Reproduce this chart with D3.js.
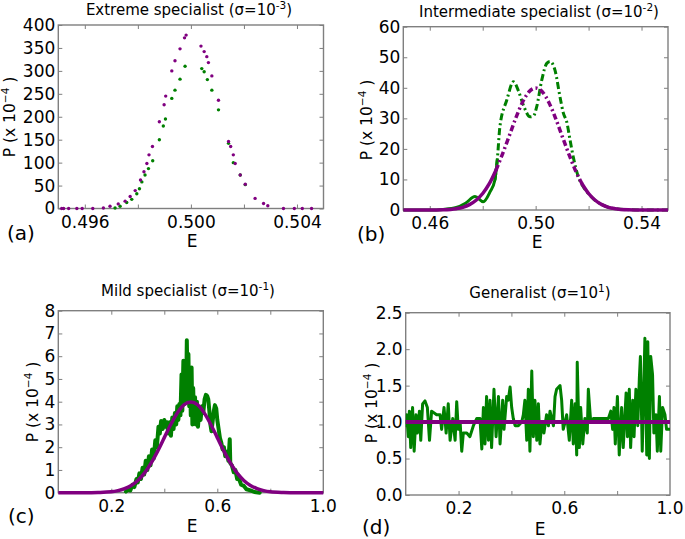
<!DOCTYPE html>
<html><head><meta charset="utf-8">
<script src="https://cdn.jsdelivr.net/npm/d3@7"></script>
<style>body{margin:0;background:#fff}svg{display:block}</style>
</head><body><svg id="c" width="685" height="539"></svg>
<script>
// ---------- DATA ----------
// (a) Extreme specialist
const aPurpleE = [0.49513,0.4952,0.49539,0.4957,0.4959,0.4963,0.4967,0.49695,0.49726,0.49752,0.49771,0.4979,0.4981,0.49823,0.49834,0.49842,0.49855,0.49881,0.49899,0.49905,0.49928,0.4994,0.49959,0.49976,0.49982,0.50038,0.5005,0.5006,0.50066,0.50079,0.50104,0.50142,0.5015,0.5016,0.50167,0.50186,0.50205,0.50242,0.50274,0.5029,0.50349,0.5039,0.5042,0.50455];
const aPurpleP = [0,0,0,0,0,0,1,5,10,16,26,39,62,80,98,117,135,189,226,245,300,322,348,372,378,354,342,331,318,289,236,146,135,117,98,73,53,22,11,6,0,0,0,0];
const aGreenE = [0.49714,0.49733,0.49758,0.49777,0.49796,0.49806,0.49815,0.49827,0.4984,0.49856,0.49881,0.49896,0.49904,0.49928,0.4994,0.49959,0.49978,0.50041,0.5005,0.50062,0.50079,0.50104,0.50142,0.5016,0.50186,0.50205];
const aGreenP = [1,5,13,20,32,43,58,73,87,104,150,180,195,240,258,282,310,305,298,281,258,215,142,100,73,52];

// (b) Intermediate specialist
const bPurpleE = [0.45,0.455,0.46,0.465,0.47,0.4725,0.475,0.4775,0.48,0.4825,0.485,0.4875,0.49,0.4925,0.495,0.4975,0.5,0.5025,0.505,0.5075,0.51,0.5125,0.515,0.5175,0.52,0.5225,0.525,0.5275,0.53,0.535,0.54,0.545,0.55];
const bPurpleP = [0,0,0.01,0.09,0.44,0.88,1.75,3.2,5.4,8.6,13.0,18.4,24.2,30.1,35.2,38.7,39.9,38.7,35.2,30.1,24.2,18.4,13.0,8.6,5.4,3.2,1.75,0.88,0.44,0.09,0.01,0,0];
const bGreenE = [0.45,0.46,0.465,0.47,0.4735,0.4771,0.4802,0.4828,0.4846,0.4855,0.4865,0.4891,0.4916,0.4935,0.4955,0.4979,0.4992,0.5004,0.5023,0.5042,0.5055,0.5073,0.5092,0.5105,0.5117,0.513,0.5142,0.5161,0.518,0.5199,0.522,0.525,0.53,0.54,0.55];
const bGreenP = [0,0,0.2,0.8,2.2,4.4,2.7,6.0,9.8,16.4,27.3,36,42,39,34,30.5,30.8,33.8,42.5,48,48.6,45.8,37,31.6,29,22.9,17.4,10.9,7.6,5.4,3.5,1.8,0.4,0,0];

// (c) Mild specialist
const cPurpleE = [0,0.05,0.1,0.15,0.2,0.225,0.25,0.275,0.3,0.325,0.35,0.375,0.4,0.425,0.45,0.475,0.5,0.525,0.55,0.575,0.6,0.625,0.65,0.675,0.7,0.725,0.75,0.775,0.8,0.85,0.9,0.95,1.0];
const cPurpleP = [0,0,0,0.01,0.04,0.09,0.18,0.32,0.54,0.86,1.30,1.83,2.42,3.01,3.52,3.87,3.99,3.87,3.52,3.01,2.42,1.83,1.30,0.86,0.54,0.32,0.18,0.09,0.04,0.01,0,0,0];
const cGreenE = [0.255,0.265,0.272,0.28,0.287,0.295,0.3,0.306,0.312,0.318,0.324,0.33,0.336,0.342,0.348,0.354,0.36,0.366,0.372,0.378,0.383,0.388,0.394,0.4,0.406,0.41,0.415,0.42,0.425,0.43,0.435,0.44,0.445,0.449,0.453,0.457,0.461,0.465,0.468,0.472,0.475,0.479,0.482,0.485,0.488,0.491,0.494,0.497,0.5,0.503,0.506,0.509,0.512,0.516,0.519,0.523,0.527,0.532,0.537,0.542,0.547,0.552,0.557,0.562,0.566,0.57,0.574,0.578,0.582,0.587,0.591,0.596,0.6,0.605,0.61,0.615,0.62,0.625,0.63,0.636,0.642,0.647,0.649,0.655,0.662,0.668,0.675,0.682,0.69,0.7,0.71,0.725,0.74,0.76];
const cGreenP = [0.05,0.15,0.1,0.35,0.25,0.6,0.45,0.85,0.6,1.1,0.8,1.4,1.0,1.6,1.2,1.9,1.5,2.3,2.0,2.9,2.6,3.15,2.8,3.2,2.9,3.1,2.6,3.1,2.5,3.3,2.8,3.5,3.0,3.8,3.2,3.9,3.4,5.2,3.6,5.8,3.9,5.3,4.0,6.7,4.4,6.1,3.8,5.0,3.4,5.5,3.0,4.6,3.3,4.2,3.0,4.0,2.9,3.6,3.2,3.8,3.5,4.1,4.3,4.25,4.1,3.6,3.0,2.7,3.1,3.6,3.85,3.7,3.2,2.8,2.4,2.2,1.9,2.0,1.6,1.8,1.4,2.35,1.3,1.2,0.9,1.0,0.6,0.6,0.35,0.3,0.15,0.1,0.03,0];

// (d) Generalist
const dPurpleE = [0,1];
const dPurpleP = [1.0,1.0];
const dGreenE = [0.000,0.004,0.010,0.014,0.019,0.026,0.032,0.039,0.044,0.052,0.057,0.064,0.073,0.082,0.090,0.098,0.117,0.130,0.136,0.145,0.153,0.161,0.168,0.178,0.187,0.193,0.199,0.206,0.212,0.218,0.231,0.243,0.256,0.269,0.281,0.288,0.294,0.300,0.306,0.313,0.319,0.325,0.334,0.342,0.351,0.357,0.367,0.372,0.382,0.388,0.395,0.401,0.407,0.414,0.426,0.439,0.445,0.451,0.458,0.464,0.470,0.477,0.483,0.489,0.496,0.502,0.508,0.515,0.523,0.533,0.540,0.546,0.559,0.565,0.571,0.584,0.590,0.596,0.603,0.609,0.619,0.628,0.634,0.641,0.647,0.649,0.657,0.662,0.670,0.678,0.687,0.691,0.700,0.710,0.729,0.748,0.767,0.776,0.783,0.788,0.793,0.801,0.808,0.817,0.823,0.834,0.839,0.846,0.851,0.859,0.864,0.871,0.878,0.884,0.888,0.895,0.902,0.905,0.912,0.916,0.922,0.927,0.934,0.939,0.947,0.952,0.960,0.965,0.972,0.981,0.987,1.000];
const dGreenP = [0.95,1.1,0.8,1.15,0.65,1.2,0.6,1.1,0.85,1.15,0.75,1.25,1.29,1.2,0.75,1.15,1.1,1.1,0.9,1.2,0.85,1.25,0.75,1.05,0.75,1.28,0.9,1.0,0.6,0.85,0.85,0.8,0.95,1.05,1.05,0.63,1.2,0.7,1.35,0.75,1.3,0.65,1.45,0.8,1.35,0.7,1.3,0.9,1.35,1.3,1.48,1.2,1.05,0.95,0.95,1.0,1.1,1.3,0.75,1.45,0.6,1.7,0.8,1.3,0.75,1.25,0.7,1.0,0.85,1.1,0.95,1.15,0.95,1.35,1.45,1.5,1.3,0.9,1.0,1.1,0.75,1.3,0.7,1.25,0.55,1.82,0.65,1.2,0.7,1.05,0.85,1.45,1.0,1.05,1.05,1.05,1.05,1.15,0.9,1.2,0.7,1.35,0.55,1.2,0.65,1.4,0.8,1.45,0.65,1.3,0.8,1.45,0.95,1.6,1.9,0.6,1.65,2.15,0.55,2.1,0.5,1.9,1.65,0.85,1.1,0.6,1.35,0.6,1.2,1.1,0.9,0.9];

// tick values / labels
const aXTicks = [0.496,0.498,0.500,0.502,0.504], aXLabels = [0.496,0.500,0.504];
const bXTicks = [0.46,0.48,0.50,0.52,0.54], bXLabels = [0.46,0.50,0.54];
const cdXTicks = [0.2,0.4,0.6,0.8], cdXLabels = [0.2,0.6,1.0];
const aYTicks = [0,50,100,150,200,250,300,350,400];
const bYTicks = [0,10,20,30,40,50,60];
const cYTicks = [0,1,2,3,4,5,6,7,8];
const dYTicks = [0,0.5,1.0,1.5,2.0,2.5];

const PURPLE = "#800080", GREEN = "#008000";
const FONT = "DejaVu Sans";
const svg = d3.select("#c");

function panel(cfg) {
  const x = d3.scaleLinear().domain(cfg.xdom).range([cfg.L, cfg.R]);
  const y = d3.scaleLinear().domain(cfg.ydom).range([cfg.B, cfg.T]);
  const g = svg.append("g");
  const has = (arr, d) => arr.some(v => Math.abs(v - d) < 1e-9);
  const styleAxis = a => {
    a.select(".domain").remove();
    a.attr("font-family", FONT).attr("font-size", 17);
    a.selectAll("line").attr("stroke", "#7f7f7f").attr("stroke-width", 1);
    a.selectAll("text").attr("fill", "#000");
  };
  g.append("g").attr("transform", `translate(0,${cfg.B})`)
    .call(d3.axisBottom(x).tickValues(cfg.xticks).tickSize(-4).tickPadding(7)
      .tickFormat(d => has(cfg.xlabels, d) ? cfg.xfmt(d) : "")).call(styleAxis);
  if (cfg.edgeLabel) {
    g.append("text").attr("x", cfg.R).attr("y", cfg.B + 7).attr("dy", "0.71em")
      .attr("text-anchor", "middle").attr("font-family", FONT).attr("font-size", 17).text(cfg.edgeLabel);
  }
  g.append("g").attr("transform", `translate(0,${cfg.T})`)
    .call(d3.axisTop(x).tickValues(cfg.xticks).tickSize(-4).tickFormat("")).call(styleAxis);
  g.append("g").attr("transform", `translate(${cfg.L},0)`)
    .call(d3.axisLeft(y).tickValues(cfg.yticks).tickSize(-4).tickPadding(3).tickFormat(cfg.yfmt)).call(styleAxis);
  g.append("g").attr("transform", `translate(${cfg.R},0)`)
    .call(d3.axisRight(y).tickValues(cfg.yticks).tickSize(-4).tickFormat("")).call(styleAxis);
  g.append("rect").attr("x", cfg.L).attr("y", cfg.T).attr("width", cfg.R - cfg.L).attr("height", cfg.B - cfg.T)
    .attr("fill", "none").attr("stroke", "#7f7f7f").attr("stroke-width", 1.4);

  const clipId = "clip" + cfg.id;
  svg.append("clipPath").attr("id", clipId).append("rect")
    .attr("x", cfg.L).attr("y", cfg.T - 3).attr("width", cfg.R - cfg.L).attr("height", cfg.B - cfg.T + 6);
  const plot = g.append("g").attr("clip-path", `url(#${clipId})`);
  cfg.series.forEach(s => {
    let pts = s.E.map((e, i) => [e, s.P[i]]);
    if (s.range) pts = pts.filter(d => d[0] >= s.range[0] && d[0] <= s.range[1]);
    if (s.type === "line") {
      plot.append("path").datum(pts)
        .attr("d", d3.line().x(d => x(d[0])).y(d => y(d[1])).curve(s.curve || d3.curveLinear))
        .attr("fill", "none").attr("stroke", s.color).attr("stroke-width", s.w)
        .attr("stroke-linejoin", "round").attr("stroke-linecap", s.dash ? "butt" : "round")
        .attr("stroke-dasharray", s.dash || null);
    } else {
      plot.selectAll(null).data(pts).join("circle")
        .attr("cx", d => x(d[0])).attr("cy", d => y(d[1])).attr("r", s.r).attr("fill", s.color);
    }
  });

  // title
  const t = g.append("text").attr("x", cfg.tx).attr("y", cfg.ty).attr("text-anchor", "middle")
    .attr("font-family", FONT).attr("font-size", 15);
  t.append("tspan").text(cfg.title[0]);
  t.append("tspan").attr("dy", -6).attr("font-size", 10.5).text(cfg.title[1]);
  t.append("tspan").attr("dy", 6).text(")");
  // x label
  g.append("text").attr("x", cfg.ex).attr("y", cfg.ey).attr("text-anchor", "middle")
    .attr("font-family", FONT).attr("font-size", 17).text("E");
  // y label
  const yl = g.append("text").attr("transform", `translate(${cfg.yx},${cfg.yy}) rotate(-90)`)
    .attr("text-anchor", "middle").attr("font-family", FONT).attr("font-size", 15.5);
  yl.append("tspan").text("P (x 10");
  yl.append("tspan").attr("dy", -6).attr("font-size", 10.5).text("\u22124");
  yl.append("tspan").attr("dy", 6).text(" )");
  // panel letter
  g.append("text").attr("x", cfg.lx).attr("y", cfg.ly).attr("font-family", FONT).attr("font-size", 20).text(cfg.letter);
}

panel({id: "a", L: 58.3, R: 323.5, T: 25, B: 208.5, xdom: [0.495, 0.505], ydom: [0, 400],
  xticks: aXTicks, xlabels: aXLabels, xfmt: d3.format(".3f"), yticks: aYTicks, yfmt: d3.format("d"),
  title: ["Extreme specialist (\u03c3=10", "-3"], tx: 189, ty: 15, ex: 192, ey: 247, yx: 15, yy: 117,
  letter: "(a)", lx: 7, ly: 240,
  series: [{type: "dots", E: aGreenE, P: aGreenP, color: GREEN, r: 1.7},
           {type: "dots", E: aPurpleE, P: aPurpleP, color: PURPLE, r: 1.7}]});

panel({id: "b", L: 403.3, R: 668, T: 26.7, B: 210, xdom: [0.45, 0.55], ydom: [0, 60],
  xticks: bXTicks, xlabels: bXLabels, xfmt: d3.format(".2f"), yticks: bYTicks, yfmt: d3.format("d"),
  title: ["Intermediate specialist (\u03c3=10", "-2"], tx: 539, ty: 17, ex: 537, ey: 248, yx: 372, yy: 120,
  letter: "(b)", lx: 357, ly: 241,
  series: [{type: "line", E: bGreenE, P: bGreenP, color: GREEN, w: 3, curve: d3.curveMonotoneX, range: [0.45, 0.4856]},
           {type: "line", E: bGreenE, P: bGreenP, color: GREEN, w: 3, curve: d3.curveMonotoneX, dash: "7,3,2,3", range: [0.4846, 0.55]},
           {type: "line", E: bPurpleE, P: bPurpleP, color: PURPLE, w: 3.5, curve: d3.curveMonotoneX, range: [0.45, 0.486]},
           {type: "line", E: bPurpleE, P: bPurpleP, color: PURPLE, w: 3.5, curve: d3.curveMonotoneX, dash: "6,3,2,3", range: [0.485, 0.518]},
           {type: "line", E: bPurpleE, P: bPurpleP, color: PURPLE, w: 3.5, curve: d3.curveMonotoneX, range: [0.5175, 0.55]}]});

panel({id: "c", L: 58.3, R: 323.3, T: 310.7, B: 492.7, xdom: [0, 1], ydom: [0, 8],
  xticks: cdXTicks, xlabels: cdXLabels, xfmt: d3.format(".1f"), yticks: cYTicks, yfmt: d3.format("d"),
  edgeLabel: "1.0",
  title: ["Mild specialist (\u03c3=10", "-1"], tx: 188, ty: 296, ex: 192, ey: 532, yx: 38, yy: 402,
  letter: "(c)", lx: 8, ly: 523,
  series: [{type: "line", E: cGreenE, P: cGreenP, color: GREEN, w: 4},
           {type: "line", E: cPurpleE, P: cPurpleP, color: PURPLE, w: 3.5, curve: d3.curveMonotoneX}]});

panel({id: "d", L: 405.7, R: 670, T: 312.7, B: 495, xdom: [0, 1], ydom: [0, 2.5],
  xticks: cdXTicks, xlabels: cdXLabels, xfmt: d3.format(".1f"), yticks: dYTicks, yfmt: d3.format(".1f"),
  edgeLabel: "1.0",
  title: ["Generalist (\u03c3=10", "1"], tx: 540, ty: 298, ex: 540, ey: 535, yx: 377, yy: 403,
  letter: "(d)", lx: 362, ly: 534,
  series: [{type: "line", E: dGreenE, P: dGreenP, color: GREEN, w: 3},
           {type: "line", E: dPurpleE, P: dPurpleP, color: PURPLE, w: 4}]});
</script>
</body></html>
